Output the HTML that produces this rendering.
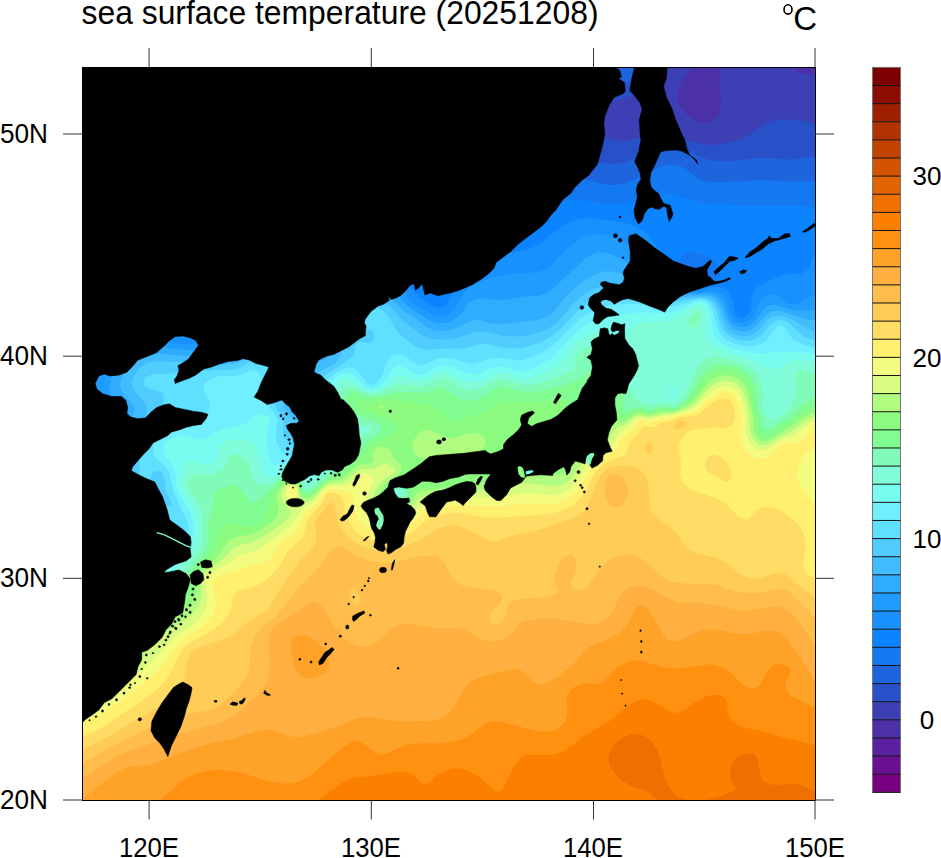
<!DOCTYPE html>
<html><head><meta charset="utf-8"><style>
html,body{margin:0;padding:0;background:#fff;}
body{width:941px;height:858px;overflow:hidden;position:relative;}
svg{position:absolute;left:0;top:0;}
text{font-family:"Liberation Sans",sans-serif;fill:#000;}
</style></head><body>
<svg width="941" height="858" viewBox="0 0 941 858">
<defs><clipPath id="pc"><rect x="82" y="67" width="733" height="733"/></clipPath></defs>
<g clip-path="url(#pc)">
<rect x="82" y="67" width="733" height="733" fill="#780080"/>
<path fill="#780080" fill-rule="evenodd" d="M123.9 67 126.2 65 816 65 816 801 80 801 80 100.9 102.2 85Z"/>
<path fill="#780080" fill-rule="evenodd" d="M169.9 67 171.8 65 816 65 816 801 80 801 80 136.3 105.6 121 128 105.1 149.5 87Z"/>
<path fill="#780080" fill-rule="evenodd" d="M211.7 67 213.5 65 816 65 816 801 80 801 80 167.8 100 158.2 118 148.6 134 138.7 150 127.2 164.9 115 180 101 195.6 85Z"/>
<path fill="#6a1090" fill-rule="evenodd" d="M251.1 67 252.7 65 816 65 816 801 80 801 80 195.6 111.6 183 132 173.6 150.7 163 168 151.1 186 136.3 206.3 117 228.8 93Z"/>
<path fill="#5a20a0" fill-rule="evenodd" d="M289.8 67 291.4 65 816 65 816 801 80 801 80 220.2 124 205.7 144 198 164 187.9 182 176.1 204 158 232.1 131 264.2 97Z"/>
<path fill="#4c30a8" fill-rule="evenodd" d="M329.8 67 331.4 65 816 65 816 801 80 801 80 242 100 236.1 140 225.8 155.4 221 174 212.9 184 207.2 192 201.8 206 191 220 178.7 276.2 125 307.5 93Z"/>
<path fill="#3c40b4" fill-rule="evenodd" d="M373.9 65 695.2 65 687.4 73 681.3 83 678 93 678 101 679.2 105 681.4 109 687.2 115 696 120.5 700 121.9 704 122.6 710 121.7 714 119.4 718 115 720.6 109 721.2 103 719.4 89 720 75 718.4 69 716.3 65 790.9 65 794.2 69 800 72.6 806 74.2 816 75.3 816 801 80 801 80 261.7 94 257.5 108 254.1 150 246.5 166 242.8 182 236.9 190 232.8 198 227.9 208 220.7 218 212.4 270 165 333.2 111 345.6 99 354.9 89 365 77Z"/>
<path fill="#3c40b4" fill-rule="evenodd" d="M419.6 65 672 65 663.6 83 657.8 97 656 105 656.9 111 659.7 115 661.9 117 672 123 691.2 131 698 133 704 134.1 712 133.7 722 130.4 726 128.3 730.3 125 735.3 119 737.9 113 738.8 107 738.5 101 735.8 87 735.7 79 738 70.6 742 65 760 65 766 70.9 776.2 85 780 88.8 784 91.7 790 94.6 796 96.5 816 99.8 816 801 80 801 80 279.8 96 274.6 114 270.5 130 268.3 164 265.2 176 263.2 190 258.8 204 251.4 212 245.9 222 237.9 264 199.2 288 179.4 312 162.3 357.6 133 368.8 125 378.7 117 389.3 107 400 94.8 409.9 81Z"/>
<path fill="#2850c8" fill-rule="evenodd" d="M468.8 65 656.1 65 652.8 73 648.5 81 644.2 87 640 91.2 636 94 632 96 615.1 101 608 104.3 601.8 109 597.4 115 596 119 595.8 123 596.8 127 599 131 602 134.2 606 137.1 610.3 139 616 140.4 626 140.5 650 136.3 664 135.9 680 138.1 704 144.5 714 144.9 730 142.5 740 139.5 748.8 135 766 123.1 774 120.3 784 119.5 798 119.8 816 123.8 816 801 80 801 80 296.9 90 292.7 100 289.4 110 286.9 120 285.2 136 283.7 170 283.6 184 282.3 196 279.1 208.7 273 218 266.8 228 258.8 264 225 278 212.7 292 201.8 304 193.7 320 184.5 338 175.9 354 169.6 383.4 159 398 152.9 412 145.5 424 137 430.9 131 438.6 123 445 115 450.5 107 455.1 99 459.9 89Z"/>
<path fill="#1e64dc" fill-rule="evenodd" d="M527.1 65 640.6 65 638 71.5 634 77.6 630 81.2 624 84.2 614 86.1 568 91.3 558 91.9 552 91.6 546 90.2 542 88.3 538 85.4 534 81 531.5 77 528.8 71ZM522.8 137 532 136 542 137.7 552 141.5 576.2 153 590 158.8 602 162.7 610 164.1 616 164 624 162.6 654 152 664 149.8 672 149 684 149.8 706 158.9 712 160.4 720 161.2 734 160.8 756 158.3 766 157.7 792 159.8 816 155.8 816 801 80 801 80 313.5 90 308.3 100 304.2 110 301.1 122 298.7 132 297.7 142 297.5 172 299.9 182 300.1 194 298.8 204 295.8 216 289.8 228 281.5 240.5 271 272 241.1 285.9 229 302 217.2 318 208.1 328 203.6 338 200 348 197.2 358 195.2 376 193.3 416 192.4 426 190.9 434 188.6 444 184.3 456 177.5 490 153.8 502 146.1 514 139.9Z"/>
<path fill="#1478f0" fill-rule="evenodd" d="M667.3 165 674 164.7 680 166 686 169.1 698.4 179 702 180.7 708 181.9 722 182.3 760 180 792 181.5 816 181.2 816 801 80 801 80 330.8 91.2 323 102 317.3 112 313.6 124 310.8 134 309.7 146 309.8 156 310.9 176 314.1 186 314.7 192 314.4 200 313.1 212.6 309 226 301.8 240.9 291 254.9 279 284.7 251 300 238.6 310 232 318 227.6 326 224 336 220.5 346 218.2 356 217 366 216.9 376 217.9 386 220.1 394 222.6 424 235.6 430 236.6 434 236.4 440 234.7 448 230.6 482 208.3 508 192.8 522 185.8 536 180.5 544 178.6 552 177.3 568 176.9 582 178.6 604 184.3 610 185 616 184.9 622 183.9 630 181.5 638 178 656 168.7 662 166.3Z"/>
<path fill="#0c84ff" fill-rule="evenodd" d="M662 195 668 193.9 674 194.5 696 201.9 704 203.6 712 204.6 768 206 790 205 806 206.9 816 207.4 816 801 80 801 80 350.9 85.2 345 96 335.3 105.8 329 116 324.4 128 321.3 138 320.2 148 320.5 158 321.9 178 326.1 188 326.7 196 326.1 206 324.5 214 322.3 220 320.1 228 316.1 236 311.2 255.8 297 270.2 285 296 261.1 308 251.6 322.3 243 330 239.7 338 237.1 350 234.9 362 234.9 374 237 386 241.6 394 246.3 402.2 253 411.3 263 422 278.2 426 282.9 430 285.8 434 286.8 436 286.3 438 285 440 282.9 449.6 269 458 259 466 251.6 474 245.5 490 236 517.2 223 542 209.2 552 204.5 564 200.8 576 199.3 584 199.9 602 203.7 614 204 626 203.3 642 200.8ZM686 252.7 682.2 255 680 258.3 679.1 263 679.6 267 681 271 683.3 275 686.8 279 691.9 283 696.5 285 702 284.9 715.5 279 718.4 277 720.2 275 720.9 273 720.8 271 719.2 267 714.6 261 710 257.1 704 254.2 698 252.7 692 252Z"/>
<path fill="#1890ff" fill-rule="evenodd" d="M579.2 219 586 218.2 592 218.3 616 221 630 224.4 636.7 227 642 229.9 648 234.6 652 239.2 656 245.8 662.3 259 666.8 267 671.2 273 677.1 279 685.7 285 696 289.3 700 289.6 710 287.2 716 286.7 720 287.2 724.7 289 728 291.5 730.6 295 732.8 301 735.1 313 736 315 737.8 317 740 318.1 742 318.2 745.2 317 748.6 313 750 309 752.3 295 754.3 291 758 286.7 764 283 782 275.4 788 274.2 800 273.8 804 272.5 806.3 271 809.3 267 812 258.7 816 252.5 816 801 80 801 80 381.8 89.1 363 97.5 351 105.7 343 114 337.4 124 332.8 134 330.3 142 329.6 152 330.1 160 331.4 176 335.4 184 336.3 210 334.2 218 332.7 224 330.8 238 323.6 261.8 309 273.7 301 284 292.5 306.5 271 319.7 261 326.6 257 334 253.7 340 251.8 348 250.2 358 249.7 366 250.6 376 253.6 384 257.5 391.6 263 398 269.2 404 276.6 414 291.5 419 297 427.7 303 434 306.4 438 307.7 442 307.4 444 306.1 446.9 303 455.7 287 461.5 279 468 272.5 476 266.5 486 261 498 256.2 508 253.4 526 249.8 534 247.1 542 242 555 231 562 226 570 221.8Z"/>
<path fill="#209cff" fill-rule="evenodd" d="M589.9 235 598 234.4 606 235.3 616 238.2 624 242 630 245.8 638 252.1 664.3 277 672.7 283 680.3 287 691.5 291 698 292.4 708 290.8 712 290.7 716 291.4 720 293 724 296.4 726.9 301 730.6 313 732.4 317 736 321.2 740 322.9 743.1 323 746 322.3 750.7 319 754.8 313 760 300.2 762 298 766 295.7 772 294.5 776 294.9 780 296.8 784.2 301 787 303 790 304.1 794 304.2 799 303 802.9 301 816 292.8 816 801 80 801 80 428.6 86 418.9 90.5 409 92.7 401 97.1 381 101 369 105.2 361 110 354.6 116 348.9 124 343.6 132 340.3 140 338.5 146 338.1 154 338.5 162 339.8 176 343.2 182 343.9 216 342.8 222 342 228 340.3 234 337.6 254 326.4 278 315.8 286 311.4 294.1 305 314 283.4 324 274.6 330 270.6 338 266.6 344 264.6 352 263.1 360 262.9 366 263.7 374 266 380 268.8 388 274.2 394 279.8 409.2 299 413.4 303 428 311.9 434 314.9 440 316 444 315.5 448 313.9 451.7 311 455 307 461 297 464 292.9 470 287.4 476 283.6 488 278.8 502 275.4 512 273.8 534 272.6 540 271.3 544 269.8 548.8 267 553.9 263 569.4 247 576 241.4 583.5 237Z"/>
<path fill="#30acff" fill-rule="evenodd" d="M594.9 253 600 251.9 604 252.3 610 253.9 616 256.4 634 265.8 661.3 283 674 289.1 682 291.5 694 293.8 698 294.3 708 293.3 712 293.8 716 295.2 720 298.2 723.4 303 728 316 730.6 321 734.7 325 740 327.2 746 327 752 323.9 756.6 319 764 308.8 766 307 770 305.1 776 305 790 309.3 798 310.5 806 310.7 816 309.4 816 801 80 801 80 463 105.3 427 110.9 417 112.1 413 112.3 409 109.4 391 110.5 379 113.6 369 117.2 363 120.4 359 126 353.9 132 350.1 138 347.7 146 346 156 346.1 180 349.8 198 349.9 218 351.2 226 350.5 234 347.9 250 338.7 262 334.1 272 332 292 330.4 298 329.2 302 327.3 306 323.3 319.8 299 324.2 293 329.9 287 336 282.2 342 278.8 348 276.4 356 274.9 362 274.8 368 275.6 374 277.3 380 280.1 386 284.1 390 287.4 404.3 303 411.6 309 428 319.4 432 321.4 438 323.1 442 323.3 446 322.9 452 320.8 457.7 317 461.6 313 468 303.8 470 301.6 476 298.9 484 298.3 498 299.9 506 299.8 524 296.8 538 296 544 294.1 550 290.5 556 285.7 585 259 590 255.4Z"/>
<path fill="#40bcff" fill-rule="evenodd" d="M597.9 273 602 271.8 608 271.3 614 271.8 622 273.6 636 278.4 662 289.8 674 293.5 682 294.8 692 295.5 706 295.3 712 296.6 716 299 719.5 303 721.5 307 725.7 319 729.2 325 734 329.3 740 331.5 746 331.5 752 329.3 757.3 325 766 315 770 312.1 774 310.9 778 310.9 782 311.5 808 319.6 816 321 816 801 80 801 80 505.7 87.6 493 100 467 106.5 455 115.6 441 130 421.2 134 413.5 134.6 411 134.3 407 133.2 405 126 397.5 122.7 393 120.9 389 120 385 121 379 123.4 373 127.1 367 130.5 363 135.1 359 140 356.1 146 354.1 152 353.2 158 353.4 174 355.2 194 355.7 218 358.6 228 358.1 236 356.1 248 348.5 254 345.7 260 344 266 343.4 274 344 283.1 347 289.7 351 300 359.1 304 361.1 308 362.1 312 362.2 322 360.4 325.4 359 327.8 357 329.6 353 329.9 347 328 331 327.9 323 329.7 313 332.9 305 338 297.6 344 292 352 287.7 360 285.8 366 285.7 372 286.8 378 289 382 291.1 390 297.2 401.6 309 406 312.7 416 318.8 426 326.6 430 328.7 436 330.6 444 331.1 452 329.7 459 327 470 321.3 476 319.6 480 319.8 490 323.3 496 324 513.9 323 536 320.1 544 318 550.1 315 554 311.2 565.3 297 572 290.3 578 285.4 588 278.4Z"/>
<path fill="#50ccff" fill-rule="evenodd" d="M605.6 285 616 284.2 626 285.3 638 288.2 660 295 672 297.4 682 297.9 702 296.8 706 297.1 710 298.4 714 301 717.2 305 719.1 309 723.8 323 727.6 329 730 331.3 734 333.9 740 335.9 744 336.2 748 335.8 754 333.6 759.8 329 766.8 321 770 318.1 774 316.1 778 315.4 782 315.8 788 317.6 795 321 808 329.1 812 330.8 816 331.5 816 801 80 801 80 544.8 90 537.8 97.9 531 103.3 525 108.5 517 111.2 511 112.9 505 116.8 477 120.7 463 128 447 142 423.6 145.2 417 146.5 411 145.7 405 143.5 401 134.5 391 132 385 132.1 381 133.5 377 136.9 371 140 367.4 146.7 363 154 361.2 172 362 188 361.4 220 365 232 364 236 363.3 240 361.9 248 355.9 254 353.3 262 352.4 268 353.4 274 356.1 278 359.3 282.7 365 285.8 371 287.8 377 288.4 383 287.2 389 283.8 399 283.2 403 283.6 407 286 410.8 294 419.7 296 421.1 298 421.2 300 418.9 301.4 413 301.7 407 301.3 393 301.9 389 303.4 385 306.4 381 310.9 377 320.5 371 333.4 365 335.6 363 338.5 359 340.5 355 341.8 349 342.1 325 343.7 315 346.1 309 348.8 305 352.8 301 358 297.9 364 296.2 370 296.1 376 297.4 382 300.2 390 306.5 404 321.3 420 333.7 424 336.1 430 338.4 440 339.6 452 338.8 460 337 474 332.1 480 331.2 484 331.6 502 335.8 516 336.5 524 335.7 534 333.6 542 331.1 550 327.5 558 321.7 571.7 305 580 297.4 586 293.3 594 288.9 600 286.5Z"/>
<path fill="#60e0ff" fill-rule="evenodd" d="M611.7 295 620 294.5 630 295 660 300.7 670 301.8 680 301.3 700 298.1 706.1 299 710 301 712 302.7 715 307 720.7 325 724 331 727.8 335 730.8 337 736 339.4 740 340.4 748 340.9 752 340.2 756 338.7 762 334.3 772 322.7 776 320.4 780 319.8 784 320.6 788.6 323 800 333.3 805.2 337 810 339 816 340.1 816 801 80 801 80 570.5 113.7 555 128.4 547 137.5 541 144.7 535 148.1 531 150.5 527 154.2 517 158.4 511 164 507.3 170.8 505 171.7 503 166.9 493 165.4 487 164.2 477 162 472.9 160 471.4 158 470.7 155 471 152.7 473 151.4 477 150 478.5 148 479.5 146 479.7 144 479.2 142 477.9 140.1 475 139.5 473 139 467 139.3 459 141.6 447 145.8 437 156.5 419 160.7 411 162.9 405 163.8 399 163.3 395 162 392.7 160 391.6 150 388.9 146.1 387 144 385 143.2 383 143.6 381 146 377.8 150 375.2 154 374.1 170 373.4 186 370.3 204 370.8 234 369.4 240 367.9 248 362.5 252 360.7 258 360.3 262 361.2 265.4 363 268 365.2 270.9 369 272.7 373 274.2 381 273.9 397 274.7 403 276.8 409 280.7 415 282.6 419 283.3 423 283.2 431 284 435 285.8 439 290 444.1 294.1 447 302 449.8 308 449.9 312 447.9 314 445.7 315.4 443 316.5 439 316.6 431 313.5 411 312.7 401 313.5 393 316.5 385 321 379 325.6 375 338 367 351.7 357 354.8 353 355.6 345 358 342 360 341.4 362 341.6 368 343.3 370 342.7 372 341.1 374 337.4 374.1 333 373 331 372 330.3 370 330.1 364 330.1 362 329.2 360 327.1 359 325 358.2 321 359.3 315 361.8 311 366 308 370 306.8 374 306.8 378 307.7 382 309.8 387.3 315 396 329.5 400 334.2 414 345.2 418 347.5 422 349.1 428 349.8 442 348.7 462 348.4 468 347.6 480 344.2 484 343.8 506 347.8 518 348.3 524 347.5 532 345.5 540 342.5 546 339.6 554 334.5 560 329.6 576 312.4 584 305.7 590 302 598 298.4 604 296.5Z"/>
<path fill="#70f0ff" fill-rule="evenodd" d="M692.9 301 700 299.4 702 299.7 705.8 301 708.6 303 710.5 305 712.7 309 717.2 327 719.9 333 722 335.9 725.4 339 734 343.5 742 345.7 748 346.3 754 346 760 344.3 764 342.2 767.7 339 776 327.2 780 325.1 784 327.1 787.1 331 790.8 337 795.1 341 804 344.9 816 347.5 816 801 80 801 80 590.4 126 571.6 148 561 158.2 555 172 545.7 184 536.5 186.8 533 188.5 529 188.8 527 188.3 523 186 518 181.7 511 178.1 501 173.3 491 169.3 473 166 467.5 158.8 461 155.2 457 153.5 453 153.2 447 154.9 441 159.7 433 166 426.3 172 421.9 176 419.8 182 417.9 200 416.5 204.1 415 208 411.9 209.6 409 210 407.2 209.7 403 208.3 399 204.6 393 203.3 389 203.9 385 205.3 383 207.7 381 216.1 377 222 375.5 234 376.2 240 375.3 252 370.1 256 370.8 258 372.3 260.1 375 262 379.7 264.3 395 265.9 401 269.1 407 276 415.7 277.3 419 277.4 423 276 431 275.7 437 276.8 443 279.3 449 282 452.4 286 455 306 462 312 462.9 316.9 461 322 456.3 326 449.3 327.7 443 328 439 327.4 433 322.4 415 320.8 407 320.4 399 321.7 391 324.2 385 328.5 379 335.5 373 342 369.3 348 367.8 352 368.1 354 368.8 358 371.7 366.9 383 370 384.9 372 385 376.6 383 380.1 379 382.2 375 386 363.8 388.8 359 392 355.9 396 354.3 400 354.4 404 355.7 408 357.9 416 364.2 420 366 424 365 436 359.2 444 357.7 454 358.7 468 363.2 472 363.8 476 363.3 488 359 494 357.9 502 358 518 360.6 522 360.3 536 355.5 548 348.9 560 339 582 317.2 590 312.2 598 308.8 612 305.3 626 303.8 638 304.1 662 306.6 670 306.6 678 305.5Z"/>
<path fill="#78fcf0" fill-rule="evenodd" d="M693.8 303 700 301.1 704 302.6 706.9 305 709.4 309 710.6 313 712.8 329 714.7 335 719.1 341 722 343.3 728 346.4 740 350.5 754 353.1 762 353.4 776 352.1 794 351.7 802 352.3 816 354.8 816 801 80 801 80 607.6 128 587.1 142 580.5 152 575.1 164 566.8 178 554.7 186 546.8 190 540.8 192.3 535 193.4 529 193.2 523 192 517.7 189.2 511 180 494.5 177.6 489 176.3 483 175.4 473 173.6 467 171.3 463 164.9 455 163.6 451 163.8 447 164.5 445 166 442.5 169.6 439 176 435.9 182 435.3 188 436.1 200 439.8 204 439.6 208 437.5 214.3 433 220 430 226 428.1 242 425.2 246.4 423 254 415.9 256 414.6 258 414.1 262 414.4 267.4 417 269.2 419 269.7 421 266.9 431 266.2 439 268.4 453 270 458.9 272 463.4 274 465 276 465.2 286 463.7 294 464.5 300 466.7 310 472.5 314 472.3 320 468.5 328.1 461 333.5 453 336.6 445 337.4 439 337.1 435 335.5 429 328.5 411 327.1 403 327 397 328.1 391 330.5 385 334.6 379 340 374.5 344 373.2 350 373.9 356 377.6 366 387 368 388.2 372 388.7 377.5 387 383.1 383 386.5 379 392.9 369 396 366.4 398 365.8 402 366.2 406 368.2 414 373.7 417.8 375 420 375.2 424 374.2 436 367.5 440 366.3 444 365.7 452 366.8 466 373.2 472 374.5 476 374.3 480 373.3 492 367.7 498 366.4 506 367 520 371.9 524 371.6 528 370.5 536.1 367 550.1 359 556 354.1 569.9 339 578 331.3 586 324.9 592 321.8 602 318.8 632 312.9 642 312.4 662 313 670 312.2 678 310.1Z"/>
<path fill="#80fcd8" fill-rule="evenodd" d="M696.2 305 700 304.2 702 304.8 704 306.7 705.4 309 706.7 313 707.1 317 706.3 333 706.9 339 707.7 341 710 344.1 716 348 750 359.6 768 368.1 772 369.3 776 368.9 787.8 363 796 360.5 804 360.3 816 362.8 816 801 80 801 80 623.3 102 613.5 128 601.1 147.8 591 158 585 164 580.6 170 575.1 192 550.8 195 545 196.8 539 197.6 531 197.4 521 196.5 515 194.6 509 191.2 503 184 492.8 181.6 487 181.2 481 182 474.3 184 465.9 186 462.4 188 461.3 190 461 194 461.4 206 464.2 212 463.7 216 461.1 217.3 459 218.6 449 220 445.9 222.6 443 226 440.9 232 439.2 238 438.7 244 439.2 250 441.4 252 443 255 447 258 453.1 259.9 459 262 472.1 263.6 475 266 476.9 270 477.7 273.6 477 280 472 284 469.8 288 468.9 292 468.9 296 469.9 300 472 303.4 475 308 480.6 310 481.4 312 481 316 478.5 330 467 334.2 463 341.2 453 344.3 447 346.6 441 347.5 435 346.6 431 336.1 413 334.1 407 333.2 401 333.8 393 335.7 387 338 382.9 342 379.2 346 378.7 350 379.8 354 381.9 366 390.2 368 391.1 372 391.6 376 390.9 382 388.5 387.5 385 396 377.9 400 376.2 404 376.8 414 380.1 420 380.8 426 379.3 436 374 442 372.5 446 372.6 450 373.5 464 380.4 468 381.7 472 382.2 480 381.1 484 379.5 494 374.2 500 372.9 506 373.7 520 378.3 524 378.5 530 377.8 536 376.2 544.3 373 552.6 369 559 365 563.2 361 569.4 351 574.3 345 580 340 588 335.3 592 333.9 598 333 602 333 608 334.1 616 337.4 618.4 339 624 344.7 625.1 343 624.5 337 625.6 333 628.1 329 632.8 325 637.1 323 642 321.9 660 321.8 670 320.1 678 316.5ZM672 386.8 669.5 389 668.6 393 670 396.5 672 397.6 674 397.3 676 395.3 677.4 391 677.2 389 676 386.9 674 386.4Z"/>
<path fill="#80fcb8" fill-rule="evenodd" d="M694 313 698 311.1 700.1 313 700.4 317 700 319 698 323.2 696 325.3 692 326.8 690 326.3 688.6 325 688.1 323 689.3 319ZM589.7 347 594 347.1 598 348.4 604.5 353 611.5 361 617.4 369 624.4 381 630 389 634 396.9 635.7 399 638.7 401 648 405.1 652 405 660 402.7 664 403.1 672 405.1 674 405 676 404.2 679.9 401 684.7 395 686.8 391 692.3 377 697.6 367 700.4 363 704 359.8 708 357.9 714 356.9 720 357.1 730 358.9 742 363 750 367.4 756 373 759.6 379 762.2 387 762.8 393 762.3 407 763.4 411 768 418.1 770 419.4 774 419.3 779.1 417 784.5 413 789.8 407 794.8 399 796.2 395 796.8 391 795.4 377 796 374.5 798 371.4 800 370.2 804 370.3 816 374.1 816 801 80 801 80 638.4 100 628.8 120 618.4 154 599.4 166 591.7 174 584.5 185.9 567 197.4 553 200.7 547 202.2 541 202.2 513 201.1 507 199.4 503 196.6 499 188 489.3 187 487 186.9 485 187.9 481 190.8 477 194 475.1 196 474.6 210 474.3 214 473.5 218 472 222 469.2 224.1 467 226.7 463 230 456 232 454.6 236 454 242 455.9 245.8 459 247.3 461 249.1 465 250.8 473 252.1 477 254.5 481 258 484 262 485.1 268 484.2 274 481.3 284 474.1 288 472.7 292 472.6 296 473.8 300 476.6 303 481 304.9 487 306 488.3 308 488.4 314 485 324 476.2 334 469.7 337.3 467 344.2 459 360 437.6 364 434.2 370 431 371.9 429 371.1 427 370 426.5 360 425 354 422.6 348 418.3 343.6 413 340.7 407 339.7 403 339.5 399 340 395 341.2 391 344.3 387 348 385.8 352 386.4 358 388.7 366 393.1 372 394.4 380 392.8 396 386.1 400 385 406 384.9 418 386.5 424 386 428 384.7 438 379.3 442 378.6 446 379.2 450 380.9 462 388.1 466 389.5 470 390.2 474 390.1 480 388.6 486 385.8 494 380.8 500 378.8 504 379.2 514 382.8 520 384.3 526 384.8 534 384.2 542 382.5 550 380 562.9 375 572 370.8 574.5 369 576 367 575.4 359 576 356.7 578 353.2 580.2 351 584 348.6ZM400 488.9 398 489.3 396 490.7 394.7 493 394.6 495 396 497.3 398 497.9 400 497.6 402.7 495 403.3 493 403.1 491 402 489.6Z"/>
<path fill="#80fc90" fill-rule="evenodd" d="M714.4 365 718 364.2 724 363.9 734 365.8 740 368.3 744 370.7 750 376.3 753.1 381 755.5 387 757.1 395 757.9 409 760.6 417 763.3 427 764 428.9 766 430.6 770 429.6 787.2 419 800 407.3 808.9 401 816 395.1 816 801 80 801 80 653 104 640.7 126 627.9 170 600.2 176 595.6 180 591.5 182.9 587 187.8 575 191.1 569 202.8 555 205.5 551 207.3 547 208.9 539 208.1 527 208.5 523 213.7 505 214.5 495 215.4 493 218 490.4 222 488 228 485.7 232 484.9 236 485.5 240 488.2 246 497.3 250 502 252 502.9 254 502.8 256 502 260 498.8 280 480.5 286 476.6 288 475.9 292 475.7 296 477.1 298 478.5 300 481 301.6 485 302 489.6 302.9 491 306 492.5 308 492.3 312 490.2 326 478.2 336.8 473 341.8 469 356.6 453 364 444.1 368 440.7 378 434 380.5 431 381 429 380.8 427 379.8 425 376 421.6 372 419.7 356.7 415 353.3 413 350 409.9 347.2 405 346.3 401 346.8 397 348 394.7 349.8 393 354 392 358 392.5 366 396.4 372 397.5 400 392 408 391.9 420 393 426 392.6 430 391.6 438 388.1 442 387.6 446 389.2 456 396.8 460 399.1 464 400.4 470 400.7 476 399.6 482 397.3 496 388.5 500 386.8 504 387 516 390.6 524 391.7 536 391.8 548 389.6 574 381.9 582 378 590 371.6 592 370.5 594 370.3 600 372.4 608 377.7 616 384.2 622 390.9 623.2 393 624.1 397 623.5 407 624 411 626 411.5 632 408.1 636 407.2 642 407.8 650 410.3 660 407.2 664 407 674 408 677 407 680 405 688.5 397 699 379 704 372 708 368.3ZM398 484.6 394 486.8 392 488.7 389.5 493 389.1 497 389.5 499 390.7 501 394 503.2 398 503.3 402 501.6 406 497.2 407.6 493 408 489 407.5 487 406 485 404 484 402 483.8ZM580 400.9 576 403.1 574.6 405 573.6 407 572.9 411 573.1 415 574.2 419 576 421.7 578 423 580 423.3 584 421.7 586 419.6 588 415.6 588.7 411 588.2 407 586 402.8 584 401.3Z"/>
<path fill="#8cfc80" fill-rule="evenodd" d="M716.9 371 722 370 726 369.9 734 371.6 738 373.3 742 375.9 746.9 381 750.3 387 752.2 393 754.1 407 756.5 417 758.6 431 760.7 435 763.7 437 766 437.1 770 435.5 790 422.6 802 412.8 806 410.5 816 406.3 816 801 80 801 80 667.5 102 655.7 122 643.6 159.6 617 178 605 183 601 188 595.2 190 591.1 192.2 579 194.4 573 198.4 567 208.6 557 213.1 551 215.8 545 220 531.6 222 528.3 226 525.1 230 524.2 248 526.8 254 526.4 258 524.8 263.7 519 267.5 513 268.9 509 271.7 497 274.5 491 279.1 485 283.5 481 286 479.5 290 478.4 294 479 296 480 298 481.8 299.7 485 300.8 491 302 493.3 304 494.9 306 495.5 310 494.6 314 491.7 326 481 330 479 338 476.7 342 474.5 352 464.6 362 457 364 454.8 369.1 447 372 444.2 378 440.9 390 436.1 394.5 433 396.1 431 397.8 427 397.8 425 396.9 423 394 421.5 384 418.4 376 415.2 360.2 407 357.8 405 356.5 403 356.2 401 357.8 399 360 399.2 364 401.2 368 402.2 382 399.4 392 399.3 410 401.4 431 405 434 406 438 408.2 448 419.2 450.1 421 454 422.6 460 421 482 412 498 403.5 502 401.9 508 401.3 522 402.3 536 402.4 542 401.6 556 398.5 562 398.5 564 399.3 566 401.5 567.1 405 567.1 409 557.8 431 555.9 437 555.2 441 556.1 445 558 446.6 562 447.1 570 444.6 582 439.3 588 435.6 592 431.6 594.6 427 596.6 421 600 399.6 602 395.9 604 394.3 606 393.7 610 394 614 396.4 616 400.3 618.5 413 620 415.5 622 416.7 626 416.3 634 411.6 638 410.6 642 411 650 413.1 662 409.7 674 410 677.4 409 681.1 407 689.2 401 692.8 397 706 378.4 712 373.2ZM408 476.7 402 478.5 394 482.5 390 485.4 386.8 489 384.8 493 384 499 385 503 386.3 505 388.5 507 392 508.4 398 508.1 404 504.8 408 500.4 415.1 485 416.2 481 415.7 479 414 477.5 412 476.7Z"/>
<path fill="#b0fc80" fill-rule="evenodd" d="M717 377 724 375.4 728 375.5 732 376.4 738 379.2 742 382.5 744.1 385 747.3 391 749.1 397 752.9 417 753.9 429 754.8 433 756 435.8 758 438.4 762 440.8 766 441 770 439.5 792 426.1 804 416.9 810 413.8 816 411.8 816 801 80 801 80 682 102 669.8 124 655.7 140 644 165.4 623 182 612.1 188 607.3 193.2 601 196.1 595 197 591 196.8 581 197.6 577 199.4 573 204 567.3 214 559.7 216.8 557 228 541.8 232 538.7 236 537.1 250 534.5 256 532.4 268 525.2 274.9 519 277.6 515 278.5 511 277.2 499 277.9 493 281 487 286 482.4 289.9 481 292 481 296 482.6 298 485 300 492.9 302 496.6 304 498.1 308 498.3 310 497.6 314 494.8 322 486.5 326 483.4 330 481.6 342 478.9 346 476 354 468.4 358 465.8 364 463.8 370 463.2 372 462.6 372.9 461 372.6 453 374.5 449 377.5 447 380 446.4 385.4 447 388 448.4 390 450.3 394.4 459 400 463.5 401.1 465 401.7 467 401.1 471 398.2 475 386.9 483 383.2 487 380.8 491 378.9 497 378.8 503 380 506.8 381.4 509 386 512.7 392 514.1 398 513 404 509.7 410.4 503 416 493.9 418 492.3 422 490.5 444 488.4 470 483.6 488 482.3 494 480.4 510 472.9 520 470.6 530 470.9 552 475 556 475 560 474.3 563.1 473 566 470.7 574.8 459 580.5 453 586 448.5 597.2 441 601.6 437 603.6 433 606 423.6 608 420.3 610 419 612 419.2 618 421.7 622 421.9 626 420.3 634 414.7 638 413.3 642 413.4 650 415 660 412.3 672 411.9 678 410.5 685.3 407 691.1 403 695 399 708 383.3 712 379.7ZM379.2 407 380 405.5 382 405.6 383.9 407 382 408.5 380 407.9ZM421.5 431 426 429.7 430 430.2 434 431.6 444 436.7 450 438.1 454 437.7 468 433.5 476 433.1 480 434.2 483.8 437 484.8 439 485.1 443 483.6 447 480.3 451 476 453.9 472 455.6 468 456.4 464 456.5 448 454.4 444 454.9 432 458.1 424 458.4 419.1 457 416 454.9 413.5 451 412.7 447 413.1 443 415.6 437 418 433.8Z"/>
<path fill="#d8fc80" fill-rule="evenodd" d="M722.3 381 728 380.8 734 382.5 740 386.9 742.9 391 745.8 399 749 415 750.2 431 751.1 435 754.6 441 756.8 443 760 444.7 764 445.2 770 443.3 780 436.9 794 429.7 808 419.3 816 416.6 816 801 80 801 80 696.5 104 682.8 130 665.3 146 652.5 171.1 629 176.4 625 186 619.3 192 614.3 197.9 607 200.6 601 202 593 201.1 583 201.5 579 203 575 206.3 571 220.8 561 234 548 240 545.2 252 541.9 258 539.4 274.8 529 282.8 523 287.1 519 290.4 515 291.4 513 291.5 511 284 503 282.2 499 281.5 495 282.3 491 283.2 489 286.7 485 290 483.5 292 483.3 294 483.8 296 485.1 298.3 489 298.9 495 300 499.1 302 501.5 306 502.1 312 499.6 316 496 323.9 487 328 484.6 332 483.5 340 482.8 344 481.8 348 479.4 356 471.9 360 469.7 364 468.8 374 468.8 378 467.1 382 463.9 384 463 388 463.5 393.3 467 394.4 469 394.5 471 393.6 473 392 474.5 384 479.2 378.8 485 375.4 491 373.8 495 372.4 503 373.4 509 375.5 513 377.2 515 380 517.2 383.9 519 390 520 396 519.1 402 516.4 408 511.5 418 499.9 420 498.4 424 496.9 478 490.2 492 489.6 512 485 520 483.7 530 483.6 550 486 556 485.8 560 485 566 482.5 570.5 479 581.6 463 588 456 594 451.3 608 442.1 610.3 439 613.3 431 615.3 429 624 425.5 634 417.6 638 415.7 642 415.6 648 416.9 652 416.8 660 414.4 674 413.3 686.2 409 690 407 694 404.1 708 389.3 712 385.8 718 382.2Z"/>
<path fill="#f4fc80" fill-rule="evenodd" d="M719.8 387 724 386 730 386.4 735.6 389 739.3 393 742 399.5 745.8 417 745.7 431 746.8 437 748.7 441 752 445.4 754 447.3 758 449.7 764 450.3 768 449 780 440.7 796 434 810 423.1 816 421.5 816 801 80 801 80 710.8 92 704.5 104 697.2 122 685.1 136 674.9 146 666.7 154 659.1 174 637.4 178 634.2 188 628.3 198.5 619 204 611.6 206.7 605 207.5 597 205.5 581 206 578.8 208.6 575 212 572.5 225.8 565 238 556.3 242 554.5 258 549.9 266 545.3 275.9 537 290 526.3 294.6 521 302 509.3 314 501.7 318 497.3 322.4 491 326 487.6 332 485.9 342 486 348 484.9 352 482.3 358 475.6 362 473.6 366 473.4 370.8 475 373.1 477 373.7 479 373.5 481 371.9 485 367.3 493 365.4 499 364.5 505 365.2 511 368.2 517 374 522.5 380 525.3 388 526.4 396 525.2 402 522.6 408 518 418 507.3 422 504.5 428 502.6 456 498.8 496 497.2 522 493.5 532 493.4 550 495.2 558 494.2 566 491 572 486.7 577 481 584.8 469 590 462.3 596 456.8 610.4 447 613.6 443 618 434.7 628 427.4 636.3 419 640 417.6 648 419.1 652 419 660 416.5 672 415.5 688 410.8 692 409 696 406.2 712 391.3 716 388.7ZM288.7 487 292 485.9 294 486.2 296 487.5 296.9 489 297.3 491 296.3 497 294 500.6 292 501.1 290 500.7 288 499.4 286 496.5 285.4 493 285.8 491 286.8 489Z"/>
<path fill="#fff070" fill-rule="evenodd" d="M718.8 393 724 391.6 728 391.6 732.3 393 736 396.5 738.5 403 741.9 419 739.6 433 740.2 439 743 445 747.2 451 752 455.6 756 457.7 762 458.6 766 457.7 772 453.7 780 445.1 784 443.7 796 441.9 800 440.6 804 438.2 812 430.4 814 429.5 816 429.3 816 447.6 808 450.8 804 454.7 801.5 459 799.2 465 797.8 471 797.4 475 798.3 481 800.9 487 806 494.3 816 505.8 816 801 80 801 80 724.8 94 717.9 106 710.5 137 689 152 676.5 162 665.6 178.9 643 183.7 639 193.3 633 201.6 627 208 621.1 211.3 617 214.3 611 215.6 605 215.2 597 212 583 212.4 581 214 579 218 576.7 238 569.1 260 563.3 266 560.6 270 558 274 554 277.7 547 280.7 543 292 534.3 296 530.2 304.5 515 308 511 317 503 326 490 330 488.7 334 488.7 344.6 491 350 493 352.2 495 353.2 497 353.8 507 355.3 513 358.3 519 361.2 523 366 527.5 372 530.8 378 532.7 384 533.5 394 532.6 403.2 529 410 524.2 420 514 426 510.4 432 508.7 450 505.2 458 504.7 494 506.3 524 503.5 532 503.3 548 504.2 558 502.9 564 500.7 568 498.6 572 495.8 576 492 580.1 487 590 471 594 465.9 601.8 459 614.3 451 617.4 447 619.6 441 620.9 439 630.7 431 638.4 421 640 420.3 642 420.4 648 422 652 421.9 660 418.7 670 418.1 680 414.9 692 412.4 697.8 409 706 401.5 712 396.8ZM290.3 491 292 489.3 294 489.2 295 491 294 493.6 292 494.5 290.2 493Z"/>
<path fill="#ffdc64" fill-rule="evenodd" d="M721.3 399 724 398.7 728 399.4 730 400.7 731.7 403 733.3 407 734.6 413 734.8 417 734 421.2 732 424.4 728 427.4 724 427.9 714 427 694 429.7 688 432.1 684.7 435 680.3 441 678.6 447 681.1 463 680 475 680.4 477 682 480.9 684 483.8 690 488.9 698 492.6 714 497.5 720 499.9 726 504 736.9 515 742 518.6 746 519.6 748 519.1 755.6 511 760 508.2 766 506.9 774 507.9 782 511.1 792 518.4 798.4 525 803.2 533 804.6 537 805.5 543 805.2 549 803.4 561 803.4 565 804.2 569 806 572.4 808 574.5 816 579.2 816 801 80 801 80 737.9 95.4 731 104 726.3 146 698.1 154 692 159.6 687 165 681 169.2 675 180.6 653 184.7 647 190 642.7 206 634.1 214.3 629 219.5 625 225.5 619 228.4 615 230.2 611 231.5 607 233.2 597 234.9 593 238 590.7 252 587.4 260 584 268 578.1 276 570.3 281.6 563 287.9 551 289.5 549 298 542.3 302 538.2 304 534.3 307.4 521 309.1 517 320 505.3 326 494.8 328 492.7 332 492.2 335.2 493 339.1 495 341.3 497 343.5 501 345 511 347.8 519 352 526.6 356 531.5 360 534.6 366 537.7 372 539.8 380 541.3 386 541.4 392 540.8 402 537.9 412 532.3 424 522.1 428.7 519 436 516.1 450 512.7 458 512.4 484 516.9 496 517.8 544 514.5 556 512.6 568 508.3 574 504.6 578 501 584 493 595.1 473 598.2 469 602 465.4 610 460.5 624.8 455 626.3 453 628 446.5 629.5 443 639.1 433 642 427.8 644 426.8 654 427.2 656 426.6 660 422.8 670 421.1 680 416.9 692 416.6 696 415.5 700.5 413 707.1 407 712.7 403 718 400.1ZM710.5 455 714 454.8 718 455.8 722 457.6 726 461 728.6 465 730.8 471 731.3 477 730 480.2 728 481.5 726 481.6 724 480.9 716 475.7 710 473.3 707.2 471 705.3 467 705.3 463 707.9 457Z"/>
<path fill="#ffcc58" fill-rule="evenodd" d="M678.8 421 682 420.3 684.3 421 685.9 423 685.3 425 683.3 427 680 428.8 676 429.1 674.2 427 674.8 425ZM647.4 443 650 442.4 650.9 443 652.3 445 652.8 447 652.4 451 650 453.8 648 453.9 645.6 451 645.3 447 645.8 445ZM610.3 467 618 465.6 632.6 467 638.6 469 643.5 473 646.8 479 648.3 485 649.1 493 649.5 507 650.5 511 652 513.4 655.5 517 668 525.8 674 531 679 537 686 547 690 550.6 696 553.3 714 557.4 722 560.2 726.8 563 738.4 573 744 576.3 748 577.8 752 578.7 758 578.6 776 573.2 780 573 784 573.8 790 577.2 800 586.5 816 597.9 816 801 80 801 80 750.7 107.7 737 132 721.9 161.7 705 170.8 699 177.7 693 181.9 687 183.9 681 188 660.3 190.1 655 193.2 651 196.1 649 202 646.2 224 639.1 230 636.4 236 632.3 250 620.4 266 610.7 270 605.7 280.1 589 296 566.1 301.8 559 311.6 549 314.4 545 316.1 541 316.6 537 315 525 315.5 521 317.8 517 323.5 511 330 502.7 332 502.3 334 504.4 337.2 519 339.3 525 342.7 531 346.1 535 352 540.4 358 544.2 364 546.8 372 549.3 378 550.3 386 550.6 392 550.1 400 548.3 408 545.5 416 541.8 438 528.7 444 526.6 450 525.5 456 525.6 462 527 471.2 531 488 540.1 492 541 496 540.9 510 536.6 530 532.1 546 527.7 574 517.8 580 514.8 584 511.4 587 507 597.4 481 600.6 475 604 470.9 606.4 469Z"/>
<path fill="#ffbe4c" fill-rule="evenodd" d="M610.2 475 612 474.4 616 474.5 621.5 477 625.3 481 627.7 487 627.9 493 626 499.4 622 505 618 507.2 614 507.2 610 505 606.8 501 605.2 497 604.5 491 605.5 483 608 477.1ZM334.8 547 338 545.9 340 546.1 352 553.7 360 557.6 372 561.7 382 563.3 388 563.4 394 562.8 414 557.5 424 555.9 432 555.7 438 557.1 441.1 559 444 562.1 451.9 577 455.3 581 458 583.1 464 585.9 470 587.4 492 589.4 496 591 500.6 595 502.3 599 501.8 601 491.8 611 489.5 615 489.1 617 490.1 621 492.3 623 496 623.9 500 622.7 503.5 619 505.9 613 508 603.9 510 601.7 511.4 601 518 599.4 546 596.9 553.3 595 556.4 593 557.8 591 557.9 589 553.8 581 553.5 579 554.3 575 558 566.2 562 559.6 566 555.8 570 554.5 572.3 555 574.5 557 575.6 559 576.4 563 576.1 569 571.5 583 571.1 585 571.6 587 574.2 589 578 589.9 582 589.8 586 588 588 585.9 596.9 573 603.6 565 608.2 561 612 558.6 618 556 624 554.7 628 554.5 634 555.4 640 557.7 646 561.8 657.9 573 663.1 577 670 580.6 676 582.4 684 583.4 702 583.5 710 584.2 718 585.8 736 591.5 746 593.3 758 592.8 778 588.8 782 588.8 786 589.8 792 594.2 816 617.4 816 801 80 801 80 764.1 122 741 148 728.6 166 721 180 716 190 713.5 206 711 213.1 709 220.5 705 227.3 699 240.6 685 246.1 677 247.8 673 249.2 667 250.4 651 251.6 645 254.8 637 258.5 631 264 625 274.5 617 278.5 613 298 588.5 317.3 569 322 563.3 330.6 551ZM352 588.4 349.6 591 349.3 595 350 597.7 352 601.4 354 603.7 356 604.9 358 604.8 359.4 603 360 601 359.2 595 356 589.4 354 588.2Z"/>
<path fill="#ffb040" fill-rule="evenodd" d="M631.1 587 638 585.6 646 586.8 654 590.2 672 600 678 602.1 682 602.9 708 603.5 716 605 732 609.1 742 610.4 752 609.9 772 606.4 780 606.9 784 608.3 788 610.7 796 618.3 816 646.5 816 801 80 801 80 779.9 102 765 114 757.6 128 751.2 172 736.4 222 721.9 231.7 717 240 710.7 259.6 693 264.1 687 267 681 269.1 673 270 665 270 659 268.5 647 268.5 641 269.7 635 272.6 629 276 625.5 286.6 619 304 605.9 310 602.4 312 601.8 316 602.3 320 604.7 324 609.3 335.1 627 341.3 635 346 639.5 350 642.4 358 645.8 366 646.5 370 645.7 374 644.1 380 639.8 389.3 631 394 627.3 400 624.4 406 623.3 412 623.8 426 627 432 627.8 454 627.6 460 628.2 466 630.2 478 637.4 484 640.3 490 641.7 494 641.7 500 640.4 506 637.4 511.2 633 519.6 623 522 621.6 526 620.3 538 619.3 562 619.2 570 620.2 582 623.3 588 624.3 594 624.3 600 622.8 604 620.8 608.4 617 612 611.9 618 599.9 621.1 595 626 589.9ZM552 647.1 551.5 649 552 649.7 554 649.3 554 648.1Z"/>
<path fill="#ffa228" fill-rule="evenodd" d="M637.3 607 640 605.3 642 605.3 645.9 607 648.2 609 653.9 617 663.4 635 666.9 639 670 641.1 674 641.5 678 640.7 700 631.1 704 630.1 710 629.5 718 630.1 736 633.7 742 634.3 750 633.8 766 630.5 772 630.4 776 631.2 779.7 633 786 638.5 804.5 663 811.7 677 816 682 816 801 80 801 94.8 789 118 771.8 124 768 130 766.5 144 765.5 152 764.1 160 761.4 184 751.7 198 746.9 212 743 236 737.9 258 730.8 264 729.8 270 730 276 731.4 290 736.4 298 737.1 308 735.4 328 729.6 340 725.5 356 718.8 364 716.9 372 717.1 388 720.3 398 721.2 428 721 438 719.8 444 717.5 449.5 713 453.9 707 464 689 468 684.3 472 681.1 476 679 482 676.8 512 669 516 668.7 520 669.8 532 680.5 538 684 542 684.6 546 683.6 556 677.7 568.1 669 574.4 663 584 651 588 647.7 593.1 645 610 638.1 615.5 635 620 631.7 626.3 625 629 621 634.2 611ZM295.4 637 298 635.9 302 635.1 308 636.1 312 638.2 315.7 641 323.4 649 327.2 655 329.4 663 328.8 669 325.9 673 323 675 318.5 677 314 678.2 310 678.5 304 677.3 300.4 675 298 672.5 295.8 669 294 664 290.7 649 290.6 645 291.6 641 293 639Z"/>
<path fill="#ff9010" fill-rule="evenodd" d="M633.2 661 638 660.6 642 661 662 667 672 668.5 684 668.1 706 664.6 712 664.6 716 665.2 722 667.3 728.4 671 734 675.6 740.8 683 744 685.6 748 687.6 752 688.4 756 687.7 759.7 685 762.5 681 767.6 671 771.1 667 774 665.1 778 664 782 664.2 788 666.8 790 669 790.3 671 790 673 786.5 681 785.5 685 785.4 687 786.6 691 790 695 792.8 697 808 704.2 816 708.7 816 801 158.3 801 166 795.6 180 782.7 187.6 777 196 773.4 208 770.8 220 770 234 771.2 246 774.1 268 781.2 278 783.3 288 783.7 298 781.9 304 779.4 311 775 341.1 749 348 744.1 354 741.2 356 740.9 360 742 364 744.3 375.8 753 380 754.6 382 754.7 388 753 402 746.6 410 744.4 418 743.6 440 743.5 450 742.1 458 740.2 464 738.2 470 735.3 486 723.6 492 721.6 498 721.6 504 722.5 530 729.6 538 731.3 546 731.8 552 730.9 556 729.5 560 727.1 562.4 725 565.3 721 566.9 717 567.5 713 566.7 701 567.1 697 568.7 693 572 688.9 576 686.1 582 683.9 588 683.3 598 684 601.7 683 606 679.4 613.7 671 618 667.5 626 663.1Z"/>
<path fill="#fc8000" fill-rule="evenodd" d="M712 695 716 694.9 720 695.6 723.4 697 725.7 699 727 703 728.1 713 729.4 717 732.2 721 738 725.2 746 727.9 764 731.6 782 737.3 806 742.5 816 745.9 816 801 316.3 801 324 796.1 342 783 348 780 356 777.4 380 774.7 396 771.7 404 771.5 408 772.3 412 774.2 422 783.6 424 784.5 426 784.4 430 782.1 437.7 775 442 772.2 448 769.7 454 768.6 458 768.5 464 769.4 473 773 481.7 779 492 789.1 496 791.6 498 791.8 500.2 791 503.8 787 513.3 767 517.6 761 522 757.1 526 755.2 528 754.8 544 755.2 552 754.7 558 753.4 564 750.9 570 747.1 578 740.6 588 733.6 609.7 721 628 706.2 636 700.9 642 699 648 699.7 656 703.1 670 712.1 672 712.7 676 712.8 680 711.8 684 709.9 697 701 702 698.2 706 696.5Z"/>
<path fill="#ee7000" fill-rule="evenodd" d="M628.8 735 636 733.9 642 734.9 648 738.1 653 743 656.9 749 659.4 755 665 779 667.4 785 674 793.4 678 796.4 682 798.3 688 799.9 694 800.5 706 799.9 718.3 797 733.7 791 736 789 732 782.5 730.3 777 730 771 731.5 765 733.7 761 738 756.8 744 753.8 750 753 754 754 755.6 755 756.8 757 758.1 761 760.9 777 762 779.6 764 781.9 768 783.8 774 784.8 782 784.7 794 783.6 798 783.9 816 791.5 816 801 657.5 801 655 797 649.5 793 642 789.6 630 785.5 622 780.7 614 773 610.2 767 608.8 763 608.4 759 609.5 753 611.3 749 614.1 745 618.1 741 624 737ZM744 788.7 742.1 789 744 790.1 746 789.7 746.6 789Z"/>
<g fill="#000" stroke="#000" stroke-width="0.6" stroke-linejoin="round">
<polygon points="82.0,67.0 615.0,67.0 619.7,70.3 621.5,76.8 618.7,78.6 624.3,82.4 625.3,90.8 623.4,93.6 614.1,97.3 609.4,104.8 604.8,115.9 603.8,123.4 604.8,134.6 602.0,147.6 597.3,164.4 589.8,173.8 589.2,174.9 581.7,180.5 574.3,188.0 570.5,193.6 563.1,199.2 559.3,204.8 555.6,210.3 551.9,214.1 546.3,221.5 540.7,227.1 533.2,232.7 525.8,238.3 518.3,243.9 510.9,251.4 503.4,257.0 495.9,262.6 494.1,268.2 488.5,273.8 481.0,279.3 471.7,284.9 458.6,290.5 449.3,293.3 449.2,292.9 438.0,295.7 430.5,292.9 424.9,294.8 422.1,283.6 419.3,287.3 415.6,290.1 413.8,283.6 410.0,285.4 406.3,290.1 401.6,294.8 397.0,297.6 391.4,299.4 387.6,296.6 389.5,300.3 383.9,304.1 378.3,305.9 370.9,311.5 365.3,319.0 364.3,322.7 366.2,326.5 365.3,332.1 365.3,335.8 359.7,338.6 355.9,341.4 348.5,347.0 341.0,350.7 333.6,354.4 326.1,356.3 318.6,360.0 315.9,364.7 314.0,372.1 317.7,374.0 320.5,374.9 326.1,380.5 333.6,386.1 337.3,391.7 341.0,399.2 343.4,400.0 349.3,405.8 353.9,411.7 357.4,418.6 358.6,426.8 359.2,435.0 360.9,443.1 359.7,449.0 358.6,454.8 355.1,460.6 350.4,464.1 344.6,466.4 342.3,469.9 337.6,472.3 331.8,469.9 325.9,469.9 321.3,472.3 319.0,475.8 314.3,474.6 309.6,475.8 305.0,479.3 300.3,481.6 295.6,483.9 291.0,483.9 285.2,481.6 281.7,476.9 282.8,472.3 285.2,467.6 288.6,461.8 292.1,455.9 293.3,450.1 294.5,444.3 293.3,438.5 291.0,433.8 287.5,429.1 286.3,425.6 291.0,423.3 296.8,423.3 299.1,421.0 295.6,415.2 292.1,411.7 289.8,407.0 285.2,403.5 281.7,400.0 274.6,402.6 267.1,404.4 261.5,400.7 254.1,397.0 257.8,391.4 261.5,382.1 265.3,374.6 269.0,367.1 263.4,365.3 255.9,363.4 248.5,359.7 242.9,358.7 237.3,360.6 228.0,361.5 218.6,364.3 211.2,367.1 203.7,369.0 195.8,375.0 190.2,377.8 182.7,380.6 175.2,383.4 174.3,379.7 177.1,375.9 179.0,370.3 178.0,365.7 182.7,362.9 188.3,359.2 193.9,351.7 198.6,345.2 195.8,340.5 190.2,337.7 182.7,335.9 175.2,336.4 169.6,340.5 164.1,346.1 156.6,352.6 147.3,356.4 137.9,360.1 132.3,366.6 126.8,372.2 119.3,375.0 110.0,375.9 104.4,374.1 98.8,375.9 95.1,383.4 96.9,389.0 102.5,393.7 111.8,396.5 121.2,396.5 125.8,400.2 127.7,407.6 126.8,413.2 130.5,417.0 137.9,418.8 145.4,417.9 151.0,412.3 156.6,407.6 164.1,404.8 169.6,403.9 175.2,407.6 184.6,409.5 193.9,411.4 201.3,412.3 207.9,414.2 206.0,418.8 201.3,424.4 193.9,425.4 186.4,427.2 179.0,430.0 171.5,431.9 167.8,435.6 160.3,439.3 152.9,443.1 149.1,448.7 143.5,454.3 138.0,460.5 132.4,467.0 131.4,470.8 138.0,474.5 145.4,478.2 154.8,482.0 158.5,489.4 162.2,495.9 166.9,509.0 169.7,520.0 177.1,525.3 184.6,530.9 190.2,536.5 191.1,542.1 190.2,549.5 191.1,557.0 186.4,560.7 175.2,564.4 165.9,570.0 164.1,572.8 169.6,571.9 179.0,570.0 186.4,573.8 190.2,579.3 188.3,586.8 185.5,594.3 184.6,601.7 183.6,607.5 182.7,613.1 175.2,616.8 171.5,624.2 165.9,629.8 162.2,637.3 154.7,644.8 147.3,650.3 141.7,652.2 141.7,659.7 137.9,667.1 136.1,674.6 130.5,680.2 124.9,685.8 119.3,691.4 111.8,698.8 104.4,702.6 98.8,710.0 91.3,715.6 85.7,719.3 82.0,723.1"/>
<polygon points="634.6,67.5 631.8,78.6 629.9,90.8 633.7,94.5 640.2,102.9 642.1,109.4 639.3,119.7 640.2,134.6 641.0,140.0 638.6,151.7 634.6,161.6 637.5,166.8 640.4,173.8 641.0,179.6 637.5,184.3 636.3,190.1 637.5,197.1 634.0,209.9 635.2,218.1 638.6,223.9 642.1,220.4 644.5,213.4 648.0,208.8 651.5,207.0 655.0,208.8 659.6,209.3 663.1,206.4 666.6,207.0 667.2,212.3 669.0,221.6 671.9,216.9 673.0,214.0 670.1,205.3 663.7,203.5 660.8,198.3 658.5,193.6 653.8,190.1 650.9,186.6 649.7,180.8 650.9,172.6 653.8,166.8 656.1,162.1 659.6,154.0 660.8,151.7 666.6,150.5 675.9,149.9 681.8,151.1 687.6,154.0 693.4,157.5 696.9,160.4 697.5,163.9 695.8,161.0 689.9,155.2 687.0,149.3 685.3,142.3 684.7,140.0 681.2,132.7 675.6,119.7 671.9,108.5 666.3,97.3 663.5,86.1 666.3,78.6 667.2,67.5"/>
<polygon points="629.4,235.7 635.9,233.8 645.3,240.3 654.6,247.8 663.9,254.3 673.2,260.9 680.7,263.7 688.2,266.5 695.6,268.3 703.1,266.5 710.5,259.9 711.5,261.8 706.8,270.2 707.7,275.8 710.5,277.6 714.3,281.4 721.7,281.4 718.0,283.2 710.5,285.1 699.3,288.8 688.2,292.6 680.7,296.3 673.2,301.9 667.6,307.5 664.8,312.1 658.3,309.3 650.9,306.6 639.7,301.9 630.3,299.1 628.1,298.6 623.2,299.4 618.3,301.8 614.3,304.3 611.0,301.0 606.1,299.4 602.0,300.2 600.4,302.6 602.0,305.1 606.1,308.3 611.0,309.2 615.9,312.4 619.2,314.9 614.3,315.7 607.7,316.5 603.7,319.0 598.8,323.8 595.5,323.8 593.1,320.6 593.9,317.3 594.7,312.4 591.4,309.2 588.2,305.1 589.0,301.0 589.8,297.7 593.9,294.5 598.8,292.8 603.7,287.9 600.4,284.7 601.2,282.2 605.3,281.4 609.4,283.1 614.3,283.9 619.2,284.7 623.2,282.2 624.5,278.2 623.2,273.3 624.1,270.0 630.3,260.9 630.3,251.5 628.5,240.3"/>
<polygon points="600.4,328.7 604.5,327.9 607.7,328.7 609.0,334.5 610.2,335.3 611.8,333.6 614.3,335.3 618.3,333.6 620.0,330.4 616.7,330.4 612.6,332.0 611.0,329.6 611.8,325.5 613.4,322.2 616.7,323.0 621.6,324.7 624.9,323.8 624.5,328.7 624.9,340.0 625.2,339.2 628.7,344.8 632.9,349.0 635.7,354.5 637.1,360.1 638.5,365.7 637.1,369.9 634.3,375.5 631.5,379.7 628.7,383.9 627.3,389.5 625.9,393.7 621.7,393.0 617.6,393.7 614.8,397.9 614.8,404.9 616.2,411.9 616.9,420.0 611.5,426.2 608.7,433.1 607.3,440.1 610.1,447.1 612.2,451.3 605.9,452.7 603.1,455.5 602.4,461.1 597.6,465.3 592.0,468.1 589.2,463.9 590.6,458.3 593.4,454.1 587.8,455.5 585.7,459.7 585.0,463.9 580.8,462.5 575.2,461.1 571.0,466.7 569.6,472.3 566.8,475.1 565.4,469.5 564.0,466.7 558.4,469.5 552.8,473.7 552.7,475.5 541.0,474.8 533.0,475.3 526.0,476.2 524.7,478.3 521.7,482.3 516.2,485.1 510.6,487.9 506.4,494.9 500.8,500.5 496.6,500.5 491.0,496.3 485.4,490.7 484.0,486.5 486.8,479.5 491.0,473.9 470.0,473.9 465.5,474.3 458.5,477.1 450.1,478.5 443.1,481.3 436.2,482.7 429.2,481.3 422.2,481.3 413.8,486.9 406.8,488.3 398.4,486.9 392.8,488.3 390.0,489.0 388.6,484.8 390.0,480.6 395.6,477.8 404.0,475.0 412.4,469.4 420.8,463.8 429.2,456.8 436.2,455.4 445.9,454.7 454.3,454.0 464.1,453.3 473.9,451.9 485.1,450.5 487.9,452.6 490.7,454.0 499.1,451.2 503.6,448.7 503.6,444.5 507.8,439.0 513.4,434.8 519.0,429.2 521.7,425.0 520.3,419.4 521.7,415.2 527.3,412.4 532.9,411.0 534.3,413.1 528.7,418.0 527.3,423.6 531.5,426.4 537.1,423.6 544.1,421.5 551.1,419.4 558.1,415.2 565.1,408.2 570.7,404.0 577.7,399.8 582.2,388.4 586.4,382.8 588.5,380.0 586.8,381.1 591.0,375.5 592.4,367.1 591.0,360.1 586.8,357.3 591.0,354.5 592.4,349.0 591.0,342.0 593.8,339.2 599.4,336.4 600.1,329.4"/>
<polygon points="391.3,481.1 393.0,487.5 394.8,493.3 398.3,498.0 404.1,498.6 408.8,498.0 409.9,501.5 406.4,503.8 411.1,506.1 414.6,509.6 415.8,513.1 413.4,517.8 409.9,522.4 407.6,527.1 405.3,531.8 404.1,537.6 403.5,543.4 400.6,546.9 395.9,549.3 391.3,552.8 387.8,553.9 386.6,550.4 387.8,545.8 386.6,542.3 384.3,544.6 385.5,549.3 383.1,551.6 378.5,550.4 373.8,546.9 375.0,542.3 375.5,537.6 374.4,532.9 371.5,528.3 370.3,522.4 369.1,517.8 366.8,513.1 363.3,509.6 361.0,506.1 363.3,502.6 368.0,500.3 373.8,498.0 378.5,495.6 383.1,492.1 387.8,487.5 390.1,482.8"/>
<polygon points="420.1,501.9 425.4,497.6 429.6,494.4 436.0,491.3 442.4,490.2 448.8,488.1 455.1,484.9 461.5,482.8 467.0,481.5 472.0,482.0 475.0,484.0 476.0,488.0 475.8,492.2 470.0,498.0 465.0,503.0 463.2,505.6 460.0,502.9 455.0,500.0 453.0,500.8 446.6,501.9 440.3,510.4 436.0,516.8 429.6,516.8 427.5,512.5 425.4,506.1"/>
<polygon points="476.0,484.0 478.0,479.0 481.0,476.0 482.5,477.0 480.0,482.0 478.0,485.0"/>
<polygon points="182.7,682.1 188.3,684.8 192.0,687.6 191.1,693.2 189.2,700.7 186.4,708.2 184.6,715.6 180.8,726.8 175.2,738.0 171.5,745.5 167.8,756.6 164.1,749.2 160.3,743.6 154.7,738.0 151.0,730.5 151.9,721.2 156.6,711.9 162.2,702.6 167.8,695.1 173.4,687.6 179.0,683.9"/>
<polygon points="359.2,474.1 359.8,476.4 357.5,480.5 355.2,485.2 353.4,486.3 352.8,484.0 354.6,480.5 356.3,475.8"/>
<polygon points="340.1,519.7 342.9,516.2 347.1,514.1 349.9,508.5 352.0,505.0 354.1,505.7 352.7,511.3 348.5,516.9 344.3,520.4 341.5,521.1"/>
<polygon points="369.1,536.4 368.0,537.6 364.5,541.1 363.3,540.5 366.8,537.0"/>
<polygon points="394.8,559.7 394.2,563.2 392.4,570.0 391.3,570.0 392.4,563.2"/>
<polygon points="352.9,615.9 358.5,613.1 364.1,611.0 364.8,613.1 359.9,615.9 355.7,620.1 353.6,621.5 352.2,618.7"/>
<polygon points="332.0,647.4 334.1,649.5 330.6,653.7 326.4,657.9 322.9,663.5 319.4,664.9 318.7,662.1 322.2,656.5 325.0,652.3 328.5,650.2"/>
<polygon points="230.0,704.3 232.4,702.0 235.2,702.3 238.0,703.4 237.0,705.3 233.3,705.3"/>
<polygon points="239.4,701.5 241.7,700.6 244.5,697.8 245.4,698.7 243.6,702.5 241.7,704.3 239.8,703.4"/>
<polygon points="265.0,690.3 265.9,692.2 270.6,695.0 267.8,695.5 265.0,694.1 263.6,693.1"/>
<polygon points="558.4,393.3 561.2,395.4 558.4,399.6 555.6,403.8 553.5,402.4 555.6,398.2"/>
<polygon points="714.0,271.8 717.8,267.9 724.2,262.8 729.4,256.4 734.5,257.1 738.3,258.3 734.5,260.3 729.4,261.5 724.2,266.7 719.1,271.8 715.3,274.4"/>
<polygon points="739.6,271.8 743.5,269.9 746.7,270.5 744.7,273.1 740.9,273.7"/>
<polygon points="745.4,257.1 749.9,251.9 755.0,248.7 760.1,244.2 764.0,241.0 767.8,238.5 769.1,235.9 771.7,238.5 778.1,238.5 784.5,234.0 789.6,233.3 790.3,236.5 785.8,237.8 779.4,239.7 774.2,241.0 767.8,244.2 762.7,248.7 756.3,252.6 749.9,256.4 746.0,257.7"/>
<polygon points="802.4,232.1 807.6,228.2 816.5,221.8 816.5,225.0 810.1,229.5 805.0,232.1"/>
<polygon points="715.3,282.1 721.7,280.8 725.5,279.5 729.4,277.6 730.6,278.8 726.8,280.8 720.4,282.7 716.5,283.3"/>
<polygon points="190.1,575.0 193.6,571.5 198.3,569.7 202.9,573.8 203.9,579.6 200.6,583.4 195.9,585.7 191.3,583.4"/>
<polygon points="200.6,562.1 205.3,559.8 211.1,561.0 212.3,566.8 207.6,568.0 201.8,567.4"/>
<ellipse cx="295.2" cy="502.6" rx="8.9" ry="4.2"/>
<ellipse cx="364.5" cy="493.5" rx="1.8" ry="1.8"/>
<ellipse cx="383.0" cy="570.0" rx="3.5" ry="2.7"/>
<ellipse cx="347.3" cy="627.1" rx="1.6" ry="2.0"/>
<ellipse cx="340.3" cy="636.2" rx="1.2" ry="1.0"/>
<ellipse cx="325.7" cy="643.9" rx="1.0" ry="1.0"/>
<ellipse cx="299.8" cy="659.3" rx="1.0" ry="1.0"/>
<ellipse cx="311.0" cy="662.1" rx="1.0" ry="1.0"/>
<ellipse cx="215.6" cy="701.3" rx="1.5" ry="1.0"/>
<ellipse cx="139.8" cy="719.3" rx="1.6" ry="1.6"/>
<ellipse cx="615.4" cy="235.7" rx="2.0" ry="2.0"/>
<ellipse cx="620.1" cy="240.3" rx="1.8" ry="1.8"/>
<ellipse cx="581.9" cy="307.5" rx="1.8" ry="1.8"/>
<ellipse cx="620.0" cy="217.0" rx="1.0" ry="1.0"/>
<ellipse cx="578.5" cy="472.0" rx="1.5" ry="1.5"/>
<ellipse cx="575.2" cy="480.7" rx="1.0" ry="1.0"/>
<ellipse cx="582.2" cy="487.7" rx="1.0" ry="1.0"/>
<ellipse cx="584.3" cy="491.9" rx="1.0" ry="1.0"/>
<ellipse cx="439.0" cy="442.0" rx="2.5" ry="2.0"/>
<ellipse cx="390.3" cy="411.2" rx="1.2" ry="1.2"/>
<ellipse cx="623.0" cy="257.6" rx="0.8" ry="0.8"/>
<ellipse cx="398.1" cy="668.3" rx="1.0" ry="1.0"/>
<ellipse cx="580.6" cy="485.3" rx="1.0" ry="1.0"/>
<ellipse cx="587.0" cy="508.8" rx="1.0" ry="1.2"/>
<ellipse cx="589.1" cy="523.8" rx="0.8" ry="0.8"/>
<ellipse cx="599.8" cy="566.6" rx="0.7" ry="0.7"/>
<ellipse cx="640.5" cy="630.7" rx="0.7" ry="0.9"/>
<ellipse cx="641.3" cy="641.4" rx="0.8" ry="1.0"/>
<ellipse cx="641.3" cy="652.1" rx="0.9" ry="1.1"/>
<ellipse cx="621.2" cy="680.0" rx="0.6" ry="0.6"/>
<ellipse cx="622.1" cy="693.6" rx="0.7" ry="0.7"/>
<ellipse cx="625.5" cy="705.6" rx="0.6" ry="0.6"/>
<ellipse cx="278.9" cy="473.8" rx="1.1" ry="0.6"/>
<ellipse cx="282.9" cy="480.1" rx="0.6" ry="1.0"/>
<ellipse cx="286.4" cy="483.8" rx="0.6" ry="0.6"/>
<ellipse cx="293.1" cy="487.6" rx="0.6" ry="0.7"/>
<ellipse cx="300.6" cy="486.2" rx="1.0" ry="0.9"/>
<ellipse cx="308.4" cy="481.7" rx="1.3" ry="0.8"/>
<ellipse cx="311.1" cy="479.5" rx="0.8" ry="1.2"/>
<ellipse cx="318.2" cy="479.4" rx="1.1" ry="0.8"/>
<ellipse cx="324.9" cy="473.5" rx="0.6" ry="0.7"/>
<ellipse cx="331.0" cy="473.3" rx="0.8" ry="1.0"/>
<ellipse cx="335.2" cy="475.3" rx="1.2" ry="1.1"/>
<ellipse cx="339.3" cy="474.8" rx="1.0" ry="1.3"/>
<ellipse cx="281.0" cy="469.4" rx="1.4" ry="0.6"/>
<ellipse cx="280.9" cy="465.9" rx="0.6" ry="0.9"/>
<ellipse cx="282.9" cy="461.0" rx="1.2" ry="1.0"/>
<ellipse cx="287.2" cy="454.3" rx="1.1" ry="1.0"/>
<ellipse cx="287.7" cy="448.8" rx="1.3" ry="1.4"/>
<ellipse cx="289.8" cy="443.5" rx="0.6" ry="1.1"/>
<ellipse cx="289.0" cy="439.6" rx="1.2" ry="0.8"/>
<ellipse cx="284.9" cy="435.4" rx="0.5" ry="0.9"/>
<ellipse cx="283.2" cy="418.9" rx="0.6" ry="1.2"/>
<ellipse cx="280.8" cy="415.7" rx="0.9" ry="1.3"/>
<ellipse cx="286.5" cy="413.9" rx="1.0" ry="1.3"/>
<ellipse cx="294.1" cy="418.4" rx="0.8" ry="0.9"/>
<ellipse cx="193.0" cy="589.0" rx="1.1" ry="1.1"/>
<ellipse cx="192.4" cy="594.8" rx="1.1" ry="1.1"/>
<ellipse cx="194.8" cy="599.4" rx="1.1" ry="1.1"/>
<ellipse cx="190.1" cy="605.3" rx="1.1" ry="1.1"/>
<ellipse cx="186.6" cy="609.9" rx="1.1" ry="1.1"/>
<ellipse cx="190.1" cy="612.3" rx="1.1" ry="1.1"/>
<ellipse cx="182.0" cy="615.8" rx="1.1" ry="1.1"/>
<ellipse cx="178.5" cy="619.3" rx="1.1" ry="1.1"/>
<ellipse cx="175.0" cy="621.6" rx="1.1" ry="1.1"/>
<ellipse cx="172.6" cy="626.2" rx="1.1" ry="1.1"/>
<ellipse cx="176.1" cy="628.6" rx="1.1" ry="1.1"/>
<ellipse cx="170.3" cy="632.1" rx="1.1" ry="1.1"/>
<ellipse cx="168.0" cy="636.7" rx="1.1" ry="1.1"/>
<ellipse cx="209.9" cy="572.6" rx="1.1" ry="1.1"/>
<ellipse cx="207.6" cy="577.3" rx="1.1" ry="1.1"/>
<ellipse cx="198.3" cy="564.5" rx="1.1" ry="1.1"/>
<ellipse cx="186.4" cy="609.3" rx="0.7" ry="0.9"/>
<ellipse cx="185.5" cy="616.8" rx="0.8" ry="1.0"/>
<ellipse cx="179.0" cy="620.5" rx="1.0" ry="0.6"/>
<ellipse cx="175.2" cy="628.0" rx="0.6" ry="1.1"/>
<ellipse cx="169.6" cy="633.6" rx="0.8" ry="0.7"/>
<ellipse cx="165.9" cy="640.1" rx="1.2" ry="0.9"/>
<ellipse cx="159.4" cy="646.6" rx="1.1" ry="0.9"/>
<ellipse cx="152.9" cy="653.1" rx="1.0" ry="0.7"/>
<ellipse cx="146.3" cy="655.0" rx="1.0" ry="1.1"/>
<ellipse cx="145.4" cy="662.5" rx="0.9" ry="1.0"/>
<ellipse cx="141.7" cy="669.0" rx="1.0" ry="0.6"/>
<ellipse cx="139.8" cy="676.5" rx="1.1" ry="1.0"/>
<ellipse cx="135.1" cy="683.0" rx="0.8" ry="0.6"/>
<ellipse cx="129.6" cy="687.6" rx="1.1" ry="0.9"/>
<ellipse cx="124.0" cy="693.2" rx="1.0" ry="1.1"/>
<ellipse cx="116.5" cy="699.8" rx="1.0" ry="1.2"/>
<ellipse cx="109.0" cy="704.4" rx="0.8" ry="1.1"/>
<ellipse cx="102.5" cy="711.0" rx="0.9" ry="1.2"/>
<ellipse cx="96.0" cy="716.6" rx="1.1" ry="0.7"/>
<ellipse cx="89.5" cy="720.3" rx="0.7" ry="0.7"/>
<ellipse cx="180.8" cy="624.2" rx="1.2" ry="0.9"/>
<ellipse cx="164.1" cy="644.8" rx="1.0" ry="0.8"/>
<ellipse cx="147.3" cy="678.3" rx="0.9" ry="0.8"/>
<ellipse cx="130.5" cy="684.8" rx="0.8" ry="1.0"/>
<ellipse cx="348.7" cy="604.1" rx="0.8" ry="0.8"/>
<ellipse cx="353.6" cy="597.1" rx="0.8" ry="0.8"/>
<ellipse cx="362.0" cy="590.1" rx="0.9" ry="0.9"/>
<ellipse cx="364.8" cy="585.9" rx="0.8" ry="0.8"/>
<ellipse cx="368.3" cy="581.0" rx="0.9" ry="0.9"/>
<ellipse cx="369.0" cy="578.2" rx="0.7" ry="0.7"/>
<ellipse cx="370.4" cy="615.2" rx="0.9" ry="0.9"/>
<ellipse cx="443.8" cy="439.2" rx="1.8" ry="1.5"/>
</g>
<polygon points="375.0,508.5 378.5,507.5 380.8,511.4 383.4,515.7 383.8,520.1 382.7,525.0 380.2,529.7 378.2,528.9 376.1,525.7 377.1,521.9 378.7,519.0 377.5,515.7 375.3,514.3 374.4,511.0" fill="#80fcb8"/>
<polygon points="517.5,467.0 520.0,466.0 523.0,468.0 524.0,472.0 525.0,476.0 524.5,478.0 521.0,477.0 518.5,474.0" fill="#8cfc80"/>
<polygon points="525.5,471.5 529.0,470.5 533.0,470.2 533.5,472.0 529.0,474.0 526.0,474.5" fill="#78fcf0"/>
<polygon points="586.6,456.6 589.9,453.4 593.4,452.7 594.5,454.8 592.0,459.0 590.6,463.9 588.9,465.6 587.1,463.2 586.1,459.7" fill="#80fcb8"/>
<polyline points="156.6,532.7 164.1,534.6 171.5,538.3 179.0,542.1 186.4,545.8 192.0,547.6" fill="none" stroke="#78fcd0" stroke-width="1.3"/>
</g>
<rect x="82.5" y="67.5" width="733" height="733" fill="none" stroke="#000" stroke-width="1"/>
<path d="M149.1 67V48M149.1 800V819.5M371.3 67V48M371.3 800V819.5M593.5 67V48M593.5 800V819.5M815.0 67V48M815.0 800V819.5M82 134.0H63M815 134.0H834M82 356.2H63M815 356.2H834M82 578.3H63M815 578.3H834M82 800.0H63M815 800.0H834" stroke="#333" stroke-width="1" fill="none"/>
<text x="81.5" y="23.8" font-size="33" textLength="517" lengthAdjust="spacingAndGlyphs">sea surface temperature (20251208)</text>
<text x="793.3" y="30.3" font-size="33">C</text>
<ellipse cx="788" cy="9.45" rx="4.0" ry="4.65" fill="none" stroke="#000" stroke-width="1.6"/>
<text x="48" y="142.9" font-size="27" text-anchor="end" textLength="48" lengthAdjust="spacingAndGlyphs">50N</text>
<text x="48" y="364.9" font-size="27" text-anchor="end" textLength="48" lengthAdjust="spacingAndGlyphs">40N</text>
<text x="48" y="586.9" font-size="27" text-anchor="end" textLength="48" lengthAdjust="spacingAndGlyphs">30N</text>
<text x="48" y="808.9" font-size="27" text-anchor="end" textLength="48" lengthAdjust="spacingAndGlyphs">20N</text>
<text x="149.0" y="856.5" font-size="27" text-anchor="middle" textLength="60" lengthAdjust="spacingAndGlyphs">120E</text>
<text x="371.0" y="856.5" font-size="27" text-anchor="middle" textLength="60" lengthAdjust="spacingAndGlyphs">130E</text>
<text x="593.0" y="856.5" font-size="27" text-anchor="middle" textLength="60" lengthAdjust="spacingAndGlyphs">140E</text>
<text x="815.0" y="856.5" font-size="27" text-anchor="middle" textLength="60" lengthAdjust="spacingAndGlyphs">150E</text>
<rect x="872.5" y="774.18" width="28" height="18.12" fill="#780080"/>
<rect x="872.5" y="756.05" width="28" height="18.12" fill="#6a1090"/>
<rect x="872.5" y="737.93" width="28" height="18.12" fill="#5a20a0"/>
<rect x="872.5" y="719.81" width="28" height="18.12" fill="#4c30a8"/>
<rect x="872.5" y="701.69" width="28" height="18.12" fill="#3c40b4"/>
<rect x="872.5" y="683.56" width="28" height="18.12" fill="#2850c8"/>
<rect x="872.5" y="665.44" width="28" height="18.12" fill="#1e64dc"/>
<rect x="872.5" y="647.32" width="28" height="18.12" fill="#1478f0"/>
<rect x="872.5" y="629.20" width="28" height="18.12" fill="#0c84ff"/>
<rect x="872.5" y="611.07" width="28" height="18.12" fill="#1890ff"/>
<rect x="872.5" y="592.95" width="28" height="18.12" fill="#209cff"/>
<rect x="872.5" y="574.83" width="28" height="18.12" fill="#30acff"/>
<rect x="872.5" y="556.71" width="28" height="18.12" fill="#40bcff"/>
<rect x="872.5" y="538.58" width="28" height="18.12" fill="#50ccff"/>
<rect x="872.5" y="520.46" width="28" height="18.12" fill="#60e0ff"/>
<rect x="872.5" y="502.34" width="28" height="18.12" fill="#70f0ff"/>
<rect x="872.5" y="484.22" width="28" height="18.12" fill="#78fcf0"/>
<rect x="872.5" y="466.10" width="28" height="18.12" fill="#80fcd8"/>
<rect x="872.5" y="447.97" width="28" height="18.12" fill="#80fcb8"/>
<rect x="872.5" y="429.85" width="28" height="18.12" fill="#80fc90"/>
<rect x="872.5" y="411.73" width="28" height="18.12" fill="#8cfc80"/>
<rect x="872.5" y="393.61" width="28" height="18.12" fill="#b0fc80"/>
<rect x="872.5" y="375.48" width="28" height="18.12" fill="#d8fc80"/>
<rect x="872.5" y="357.36" width="28" height="18.12" fill="#f4fc80"/>
<rect x="872.5" y="339.24" width="28" height="18.12" fill="#fff070"/>
<rect x="872.5" y="321.12" width="28" height="18.12" fill="#ffdc64"/>
<rect x="872.5" y="302.99" width="28" height="18.12" fill="#ffcc58"/>
<rect x="872.5" y="284.87" width="28" height="18.12" fill="#ffbe4c"/>
<rect x="872.5" y="266.75" width="28" height="18.12" fill="#ffb040"/>
<rect x="872.5" y="248.62" width="28" height="18.12" fill="#ffa228"/>
<rect x="872.5" y="230.50" width="28" height="18.12" fill="#ff9010"/>
<rect x="872.5" y="212.38" width="28" height="18.12" fill="#fc8000"/>
<rect x="872.5" y="194.26" width="28" height="18.12" fill="#ee7000"/>
<rect x="872.5" y="176.13" width="28" height="18.12" fill="#e06400"/>
<rect x="872.5" y="158.01" width="28" height="18.12" fill="#d25400"/>
<rect x="872.5" y="139.89" width="28" height="18.12" fill="#c24400"/>
<rect x="872.5" y="121.77" width="28" height="18.12" fill="#b03200"/>
<rect x="872.5" y="103.65" width="28" height="18.12" fill="#9e2000"/>
<rect x="872.5" y="85.52" width="28" height="18.12" fill="#8c0c00"/>
<rect x="872.5" y="67.40" width="28" height="18.12" fill="#7d0000"/>
<rect x="872.5" y="67.4" width="28" height="724.9" fill="none" stroke="#777" stroke-width="1"/>
<path d="M872.5 85.52H900.5M872.5 103.65H900.5M872.5 121.77H900.5M872.5 139.89H900.5M872.5 158.01H900.5M872.5 176.13H900.5M872.5 194.26H900.5M872.5 212.38H900.5M872.5 230.50H900.5M872.5 248.62H900.5M872.5 266.75H900.5M872.5 284.87H900.5M872.5 302.99H900.5M872.5 321.12H900.5M872.5 339.24H900.5M872.5 357.36H900.5M872.5 375.48H900.5M872.5 393.61H900.5M872.5 411.73H900.5M872.5 429.85H900.5M872.5 447.97H900.5M872.5 466.10H900.5M872.5 484.22H900.5M872.5 502.34H900.5M872.5 520.46H900.5M872.5 538.58H900.5M872.5 556.71H900.5M872.5 574.83H900.5M872.5 592.95H900.5M872.5 611.07H900.5M872.5 629.20H900.5M872.5 647.32H900.5M872.5 665.44H900.5M872.5 683.56H900.5M872.5 701.69H900.5M872.5 719.81H900.5M872.5 737.93H900.5M872.5 756.05H900.5M872.5 774.18H900.5M872.5 792.30H900.5" stroke="#111" stroke-width="1" fill="none"/>
<text x="927" y="185.4" font-size="26" text-anchor="middle">30</text>
<text x="927" y="366.7" font-size="26" text-anchor="middle">20</text>
<text x="927" y="547.9" font-size="26" text-anchor="middle">10</text>
<text x="927" y="729.1" font-size="26" text-anchor="middle">0</text>
</svg></body></html>
